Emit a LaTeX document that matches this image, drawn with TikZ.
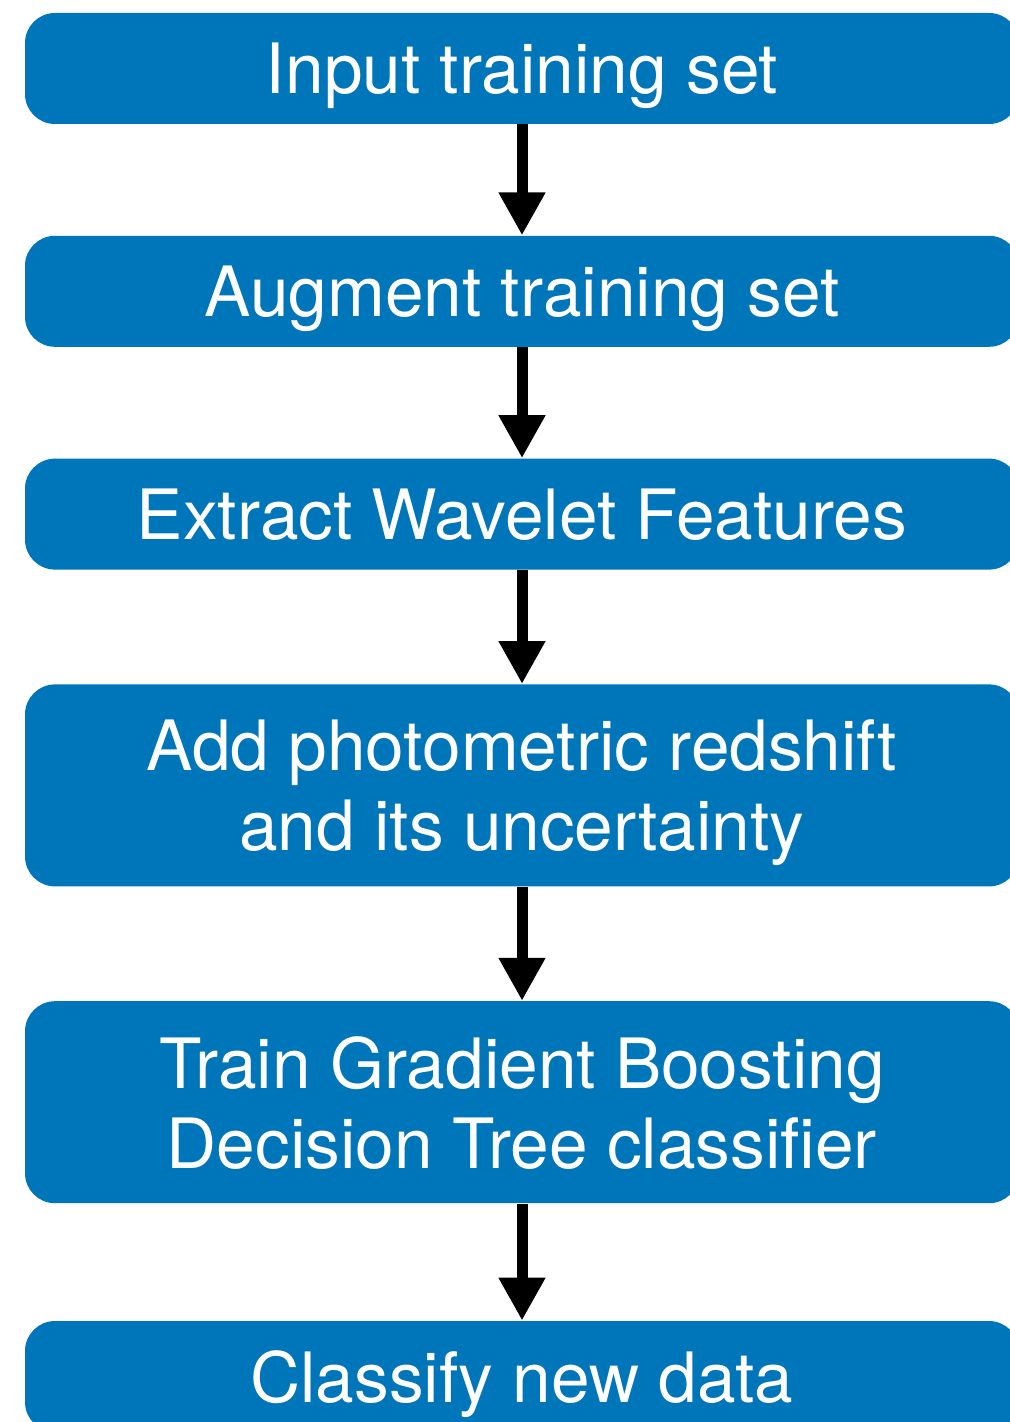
\documentclass[tikz,border=0pt]{standalone}
\usepackage{fontspec}
\setmainfont{TeX Gyre Heros}
\usepackage{tikz}
\usetikzlibrary{positioning, arrows.meta}
\definecolor{boxblue}{HTML}{0076BA}
\tikzset{
  % blue rounded step box
  stepbox/.style={rectangle, rounded corners=15pt, fill=boxblue,
                  text=white, align=center, inner sep=0pt, text depth=0pt,
                  minimum width=497pt, minimum height=55.5pt,
                  font=\fontsize{34.7}{40}\selectfont},
  % taller box for two-line text
  stepbox tall/.style={stepbox, minimum height=101pt},
  % thick black arrow between boxes
  flowarrow/.style={-{Triangle[width=22pt,length=21.5pt]},
                    line width=5.5pt, black},
}

\begin{document}
\begin{tikzpicture}
  \useasboundingbox (0,0) rectangle (504.5pt,-711pt);
  % steps
  \node[stepbox] (input) at (261pt,-34.25pt) {Input training set};
  \node[stepbox, below=55.5pt of input] (augment) {Augment training set};
  \node[stepbox, below=55.5pt of augment] (wavelet) {Extract Wavelet Features};
  \node[stepbox tall, below=57pt of wavelet] (redshift)
    {Add photometric redshift\\and its uncertainty};
  \node[stepbox tall, below=57pt of redshift] (train)
    {Train Gradient Boosting\\Decision Tree classifier};
  \node[stepbox, below=58.5pt of train] (classify) {Classify new data};

  % arrows
  \draw[flowarrow] (input) -- (augment);
  \draw[flowarrow] (augment) -- (wavelet);
  \draw[flowarrow] (wavelet) -- (redshift);
  \draw[flowarrow] (redshift) -- (train);
  \draw[flowarrow] (train) -- (classify);
\end{tikzpicture}
\end{document}
